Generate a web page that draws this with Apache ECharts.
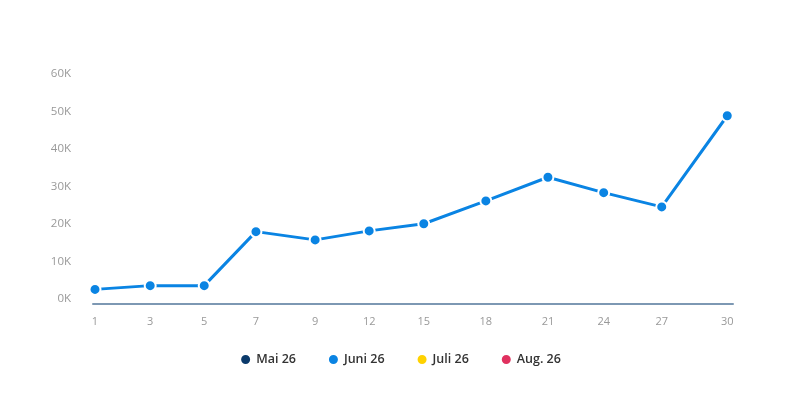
<!DOCTYPE html>
<html><head><meta charset="utf-8">
<script src="https://cdn.jsdelivr.net/npm/echarts@6/dist/echarts.min.js"></script>
<style>html,body{margin:0;padding:0;background:#fff}#c{width:800px;height:400px}</style>
</head><body><div id="c"></div>
<script>
const categories = ['1','3','5','7','9','12','15','18','21','24','27','30'];
const xPositions = [0, 0.96, 1.90, 2.80, 3.83, 4.77, 5.72, 6.80, 7.88, 8.85, 9.86, 11];
const seriesNames = ['Mai 26','Juni 26','Juli 26','Aug. 26'];
const seriesColors = ['#0b3a6b','#0a84e3','#ffd200','#e0315f'];
const juniValues = [3900,4900,4900,19300,17100,19500,21400,27500,33800,29700,25900,50200];
const yTicks = [0,10000,20000,30000,40000,50000,60000];

const chart = echarts.init(document.getElementById('c'));
const font = "'Open Sans', 'Noto Sans', sans-serif";
const juniData = juniValues.map((v,i)=>[xPositions[i], v]);
chart.setOption({
  animation:false,
  textStyle:{fontFamily:font},
  color: seriesColors,
  grid:{left:93,right:67,top:79,bottom:96},
  legend:{
    bottom:29, left:'center', icon:'circle', itemWidth:11, itemHeight:11, itemGap:31,
    textStyle:{fontFamily:font,fontSize:12.5,fontWeight:600,color:'#333'},
    data: seriesNames
  },
  xAxis:{
    type:'value', min:-0.035, max:11.1,
    splitLine:{show:false},
    axisLine:{onZero:false,lineStyle:{color:'#7d98b3',width:2}},
    axisTick:{show:false},
    axisLabel:{color:'#999',fontSize:11,margin:12,fontFamily:font,
      customValues:xPositions,
      formatter:v=>{const i=xPositions.indexOf(v);return i>=0?categories[i]:'';}}
  },
  yAxis:{
    type:'value', min:yTicks[0], max:yTicks[yTicks.length-1], interval:10000,
    splitLine:{show:false}, axisLine:{show:false}, axisTick:{show:false},
    axisLabel:{color:'#999',fontSize:11.5,margin:22,verticalAlign:'bottom',padding:[0,0,-1,0],fontFamily:font,
      formatter:v=>(v/1000)+'K'}
  },
  series: seriesNames.map((n,i)=>({
    name:n, type:'line',
    data: n==='Juni 26' ? juniData : [],
    symbol:'circle', symbolSize:11,
    lineStyle:{width:3,color:seriesColors[i]},
    itemStyle:{color:seriesColors[i],borderColor:'#fff',borderWidth:2}
  }))
});
</script></body></html>
